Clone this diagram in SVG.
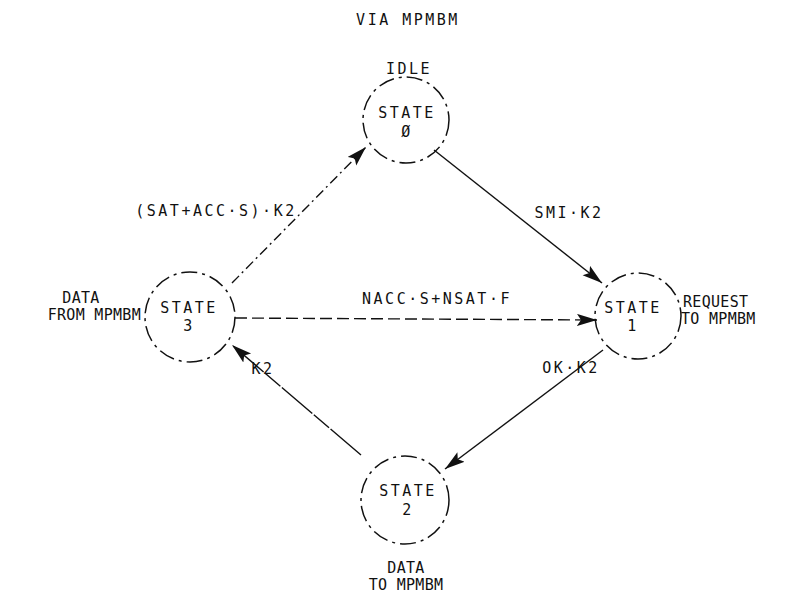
<svg xmlns="http://www.w3.org/2000/svg" width="793" height="596" viewBox="0 0 793 596">
  <style>
    .lbl { font-family: "DejaVu Sans Mono", "Liberation Mono", monospace; font-size: 15px; letter-spacing: 2.5px; fill: #111; text-anchor: middle; }
    .side { letter-spacing: 0.3px; }
    .start { text-anchor: start; }
    .end { text-anchor: end; }
    .st { fill: none; stroke: #111; stroke-width: 1.5; stroke-dasharray: 16 5 3 5; }
    .edge { fill: none; stroke: #111; stroke-width: 1.4; }
  </style>
  <defs>
    <marker id="arrow" markerUnits="userSpaceOnUse" markerWidth="22" markerHeight="14" refX="20" refY="6" orient="auto">
      <path d="M0,0 L20,6 L0,12 L4,6 z" fill="#111"/>
    </marker>
  </defs>
  <rect width="793" height="596" fill="#fff"/>

  <text class="lbl" x="408" y="25">VIA MPMBM</text>

  <g id="connectors">
    <path class="edge" d="M232,283 L366,147" stroke-dasharray="10 4 2 4" marker-end="url(#arrow)"/>
    <path class="edge" d="M434,150 L602,283" marker-end="url(#arrow)"/>
    <path class="edge" d="M235,318 L597,320" stroke-dasharray="12 5" marker-end="url(#arrow)"/>
    <path class="edge" d="M603,350 L445,469" marker-end="url(#arrow)"/>
    <path class="edge" d="M361,455 L232,345" stroke-dasharray="40 2 20 2" marker-end="url(#arrow)"/>
    <text class="lbl" x="216" y="216">(SAT+ACC·S)·K2</text>
    <text class="lbl" x="569" y="218">SMI·K2</text>
    <text class="lbl" x="437" y="304">NACC·S+NSAT·F</text>
    <text class="lbl" x="571" y="373">OK·K2</text>
    <text class="lbl" x="263" y="374">K2</text>
  </g>

  <g id="state0">
    <circle class="st" cx="406" cy="120" r="43"/>
    <text class="lbl" x="407" y="118">STATE</text>
    <text class="lbl" x="407" y="137">Ø</text>
    <text class="lbl" x="409" y="74">IDLE</text>
  </g>

  <g id="state1">
    <circle class="st" cx="638" cy="316" r="43"/>
    <text class="lbl" x="633" y="313">STATE</text>
    <text class="lbl" x="633" y="331">1</text>
    <text class="lbl side start" x="683" y="307">REQUEST</text>
    <text class="lbl side start" x="681" y="324">TO MPMBM</text>
  </g>

  <g id="state2">
    <circle class="st" cx="405" cy="500" r="44"/>
    <text class="lbl" x="408" y="496">STATE</text>
    <text class="lbl" x="408" y="515">2</text>
    <text class="lbl side" x="406" y="573">DATA</text>
    <text class="lbl side" x="406" y="590">TO MPMBM</text>
  </g>

  <g id="state3">
    <circle class="st" cx="190" cy="317" r="45"/>
    <text class="lbl" x="189" y="313">STATE</text>
    <text class="lbl" x="189" y="331">3</text>
    <text class="lbl side" x="81" y="303">DATA</text>
    <text class="lbl side end" x="141" y="320">FROM MPMBM</text>
  </g>
</svg>
